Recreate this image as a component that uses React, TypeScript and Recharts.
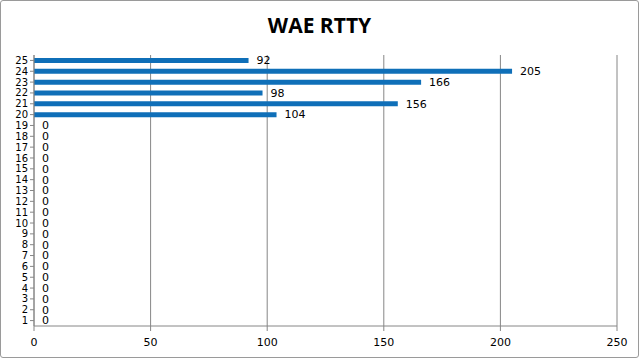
import { BarChart, Bar, Line, XAxis, YAxis, CartesianGrid } from 'recharts'

// data
const CATEGORIES = ['1', '2', '3', '4', '5', '6', '7', '8', '9', '10', '11', '12', '13', '14', '15', '16', '17', '18', '19', '20', '21', '22', '23', '24', '25']
const COUNTS = [0, 0, 0, 0, 0, 0, 0, 0, 0, 0, 0, 0, 0, 0, 0, 0, 0, 0, 0, 104, 156, 98, 166, 205, 92]
const X_TICKS = [0, 50, 100, 150, 200, 250]

const BAR_COLOR = '#0f6fb8'
const AXIS_COLOR = '#868686'
const FONT = '"DejaVu Sans", Verdana, sans-serif'

const chartData = CATEGORIES.map((name, i) => ({ name, value: COUNTS[i] }))

// bar labels skip zero-width bars, so the value labels ride on an invisible line
const ValueLabel = (props: any) => {
  const { x, y, value } = props
  return (
    <text
      x={Number(x) + 8}
      y={Number(y)}
      dy="0.35em"
      fill="#000"
      fontSize={11}
      fontFamily={FONT}
    >
      {value}
    </text>
  )
}

export default function App() {
  return (
    <div
      style={{
        position: 'relative',
        width: 639,
        height: 358,
        boxSizing: 'border-box',
        border: '1px solid #9a9a9a',
        borderRadius: 3,
        background: '#fff',
        overflow: 'hidden'
      }}
    >
      <style>{`body{margin:0}`}</style>
      <div
        style={{
          position: 'absolute',
          top: 10,
          left: 0,
          width: '100%',
          textAlign: 'center',
          fontFamily: '"Open Sans", sans-serif',
          fontWeight: 700,
          fontSize: 21,
          color: '#000'
        }}
      >
        WAE RTTY
      </div>
      <BarChart
        width={637}
        height={356}
        data={chartData}
        layout="vertical"
        margin={{ top: 54, right: 21, bottom: 0, left: 0 }}
        barCategoryGap={0}
      >
        <CartesianGrid horizontal={false} vertical stroke={AXIS_COLOR} strokeDasharray="" />
        <XAxis
          type="number"
          domain={[0, 250]}
          ticks={X_TICKS}
          interval={0}
          height={31}
          stroke={AXIS_COLOR}
          tickSize={5}
          tick={{ fill: '#000', fontSize: 11, fontFamily: FONT, dy: 5 }}
        />
        <YAxis
          type="category"
          dataKey="name"
          reversed
          width={33}
          interval={0}
          stroke={AXIS_COLOR}
          tickSize={4}
          tick={{ fill: '#000', fontSize: 10, fontFamily: FONT }}
        />
        <Bar dataKey="value" fill={BAR_COLOR} barSize={5} isAnimationActive={false} />
        <Line
          dataKey="value"
          stroke="none"
          dot={false}
          activeDot={false}
          label={<ValueLabel />}
          isAnimationActive={false}
        />
      </BarChart>
    </div>
  )
}
